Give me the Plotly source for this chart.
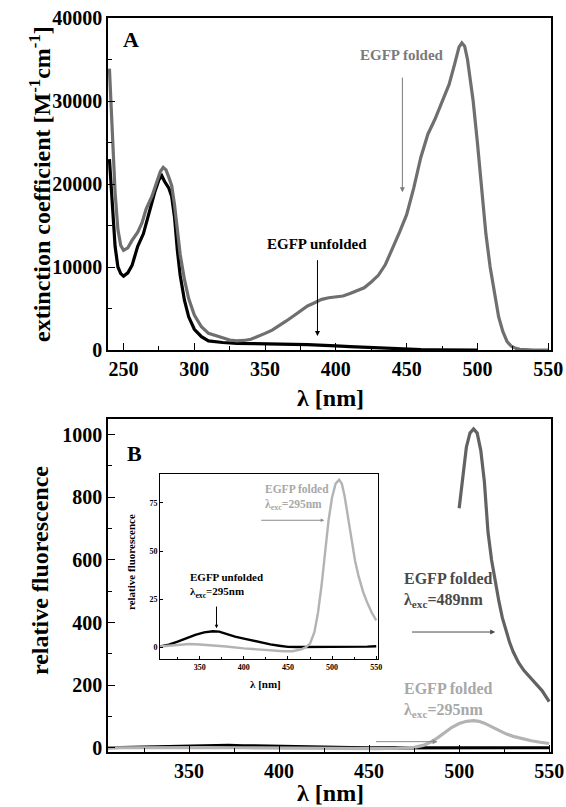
import plotly.graph_objects as go

# ---------------- Panel A: absorption ----------------
a_folded_nm = [240, 242, 244, 246, 248, 250, 253, 256, 260, 263, 266, 270, 273, 276, 278, 280, 282, 284, 286, 288,
               290, 293, 296, 300, 305, 310, 315, 320, 325, 330, 335, 340, 345, 350, 355, 360, 365, 370, 375, 380,
               385, 390, 395, 400, 405, 410, 415, 420, 425, 430, 435, 440, 445, 450, 455, 460, 465, 470, 475, 480,
               484, 487, 489, 491, 493, 495, 497, 500, 503, 506, 509, 512, 515, 518, 521, 524, 527, 530, 535, 540, 550]
a_folded_val = [33900, 26000, 19000, 14500, 12600, 12000, 12300, 13200, 14200, 15300, 17000, 18500, 20000, 21500, 22000,
                21700, 20800, 19800, 17500, 14500, 11500, 8500, 6200, 4200, 2800, 2000, 1700, 1500, 1200, 1100, 1150,
                1300, 1600, 2000, 2400, 2900, 3500, 4100, 4700, 5300, 5700, 6100, 6300, 6400, 6500, 6800, 7100, 7500,
                8200, 9000, 10300, 12200, 14200, 16300, 19500, 23200, 26000, 27800, 29800, 32000, 34500, 36500, 37000,
                36600, 35000, 32500, 30000, 25000, 19000, 14000, 10000, 7000, 4000, 2200, 1000, 450, 200, 80, 20, 0, 0]

a_unfolded_nm = [240, 242, 244, 246, 248, 250, 253, 256, 260, 264, 268, 272, 275, 277, 279, 282, 284, 286, 288, 290,
                 293, 296, 300, 305, 310, 320, 330, 340, 350, 360, 370, 380, 390, 400, 410, 420, 430, 440, 450, 460,
                 470, 480, 490, 500]
a_unfolded_val = [23000, 17000, 12500, 10000, 9200, 8900, 9300, 10200, 12500, 14000, 16500, 19000, 20500, 21000, 20300,
                  19500, 18500, 16000, 12000, 9000, 6000, 4000, 2500, 1600, 1100, 900, 800, 750, 720, 700, 680, 650,
                  600, 500, 400, 320, 250, 170, 100, 60, 30, 10, 0, 0]

# ---------------- Panel B: fluorescence ----------------
b_f489_nm = [500, 502, 504, 506, 508, 510, 512, 514, 516, 518, 520, 522, 524, 526, 528, 530, 533, 536, 540, 543, 546, 550]
b_f489_val = [765, 870, 960, 1005, 1018, 1005, 950, 850, 690, 600, 530, 470, 415, 372, 337, 307, 272, 247, 222, 203, 183, 148]

b_f295_nm = [305, 315, 325, 338, 350, 360, 380, 400, 414, 430, 445, 455, 465, 470, 475, 480, 484, 488, 492, 496, 500,
             504, 508, 511, 514, 518, 522, 526, 530, 535, 540, 545, 550]
b_f295_val = [0.5, 1, 1.5, 1.8, 1.5, 1.2, 0.5, -0.5, -1, -1.5, -2, -2, -1, 0, 2, 8, 18, 32, 50, 66, 78,
              85, 87, 85, 79, 68, 56, 45, 37, 29, 23, 18, 14]

b_unf_nm = [305, 315, 325, 335, 345, 355, 365, 372, 380, 390, 400, 410, 420, 430, 440, 450, 460, 480, 500, 520, 540, 550]
b_unf_val = [0.5, 1.5, 3, 4.8, 6.5, 7.8, 8.4, 8.2, 7, 5.6, 4.6, 3.5, 2.5, 1.6, 0.9, 0.3, 0.2, 0.2, 0.2, 0.3, 0.4, 0.6]

a_yticks = [0, 10000, 20000, 30000, 40000]
a_xticks = [250, 300, 350, 400, 450, 500, 550]
b_yticks = [0, 200, 400, 600, 800, 1000]
b_xticks = [350, 400, 450, 500, 550]
inset_yticks = [0, 25, 50, 75]
inset_xticks = [350, 400, 450, 500, 550]

W, H = 566, 807
SERIF = "Liberation Serif, Times New Roman, Times, serif"
C_BLACK = "#000000"
C_GRAY_A = "#6f6f6f"
C_DARK_B = "#626262"
C_LIGHT_B = "#b3b3b3"


def px_x(a, b):
    return [a / W, b / W]


def px_y(top, bottom):
    return [1 - bottom / H, 1 - top / H]


fig = go.Figure()
# Panel A
fig.add_trace(go.Scatter(x=a_unfolded_nm, y=a_unfolded_val, mode="lines", line=dict(color=C_BLACK, width=3.2),
                         xaxis="x", yaxis="y", showlegend=False))
fig.add_trace(go.Scatter(x=a_folded_nm, y=a_folded_val, mode="lines", line=dict(color=C_GRAY_A, width=3.2),
                         xaxis="x", yaxis="y", showlegend=False))
# Panel B
fig.add_trace(go.Scatter(x=b_unf_nm, y=b_unf_val, mode="lines", line=dict(color=C_BLACK, width=3.2),
                         xaxis="x2", yaxis="y2", showlegend=False))
fig.add_trace(go.Scatter(x=b_f295_nm, y=b_f295_val, mode="lines", line=dict(color=C_LIGHT_B, width=3.2),
                         xaxis="x2", yaxis="y2", showlegend=False))
fig.add_trace(go.Scatter(x=b_f489_nm, y=b_f489_val, mode="lines", line=dict(color=C_DARK_B, width=3.2),
                         xaxis="x2", yaxis="y2", showlegend=False))
# Inset
fig.add_trace(go.Scatter(x=b_unf_nm, y=b_unf_val, mode="lines", line=dict(color=C_BLACK, width=2.4),
                         xaxis="x3", yaxis="y3", showlegend=False))
fig.add_trace(go.Scatter(x=b_f295_nm, y=b_f295_val, mode="lines", line=dict(color=C_LIGHT_B, width=2.4),
                         xaxis="x3", yaxis="y3", showlegend=False))

tickf = dict(family=SERIF, size=20, color="black", weight="bold")
small_tickf = dict(family=SERIF, size=8, color="black", weight="bold")


def ax_common(**kw):
    d = dict(showline=True, linecolor="black", linewidth=1.5, mirror=True, ticks="inside", ticklen=7,
             tickcolor="black", tickwidth=1.2, showgrid=False, zeroline=False, tickfont=tickf, automargin=False)
    d.update(kw)
    return d


fig.update_layout(
    template="none",
    width=W, height=H,
    margin=dict(l=0, r=0, t=0, b=0, pad=0),
    paper_bgcolor="white", plot_bgcolor="white",
    font=dict(family=SERIF, color="black"),
    xaxis=ax_common(domain=px_x(108, 551), anchor="y", range=[239, 552], tickvals=a_xticks,
                    minor=dict(ticks="inside", dtick=25, tick0=250, ticklen=4, tickcolor="black")),
    yaxis=ax_common(domain=px_y(18, 350), anchor="x", range=[0, 40000], tickvals=a_yticks, tickformat="d",
                    minor=dict(ticks="inside", dtick=5000, ticklen=4, tickcolor="black")),
    xaxis2=ax_common(domain=px_x(108, 551), anchor="y2", range=[305, 551], tickvals=b_xticks,
                     minor=dict(ticks="inside", dtick=25, tick0=325, ticklen=4, tickcolor="black")),
    yaxis2=ax_common(domain=px_y(419, 752), anchor="x2", range=[-13, 1050], tickvals=b_yticks,
                     minor=dict(ticks="inside", dtick=100, ticklen=4, tickcolor="black")),
    xaxis3=ax_common(domain=px_x(160, 378), anchor="y3", range=[305, 552], tickvals=inset_xticks,
                     tickfont=small_tickf, ticklen=3, linewidth=1,
                     minor=dict(ticks="inside", dtick=25, tick0=325, ticklen=2, tickcolor="black")),
    yaxis3=ax_common(domain=px_y(474, 659), anchor="x3", range=[-6, 90], tickvals=inset_yticks,
                     tickfont=small_tickf, ticklen=3, linewidth=1),
)

annots = []
title_f = dict(family=SERIF, size=24, color="black", weight="bold")


def pa(text, x, y, font, angle=0):
    return dict(text=text, xref="paper", yref="paper", x=x / W, y=1 - y / H, textangle=angle,
                xanchor="center", yanchor="middle", showarrow=False, font=font)


# axis titles
annots.append(pa("extinction coefficient [M<sup>-1</sup>cm<sup>-1</sup>]", 40, 184, title_f, -90))
annots.append(pa("λ [nm]", 330, 398, title_f))
annots.append(pa("relative fluorescence", 40, 571, title_f, -90))
annots.append(pa("λ [nm]", 330, 793, title_f))
# panel letters
letter_f = dict(family=SERIF, size=22, color="black", weight="bold")
annots.append(pa("A", 131, 40, letter_f))
annots.append(pa("B", 134, 453, letter_f))


def da(text, x, y, xr, yr, font, xanchor="center"):
    return dict(text=text, x=x, y=y, xref=xr, yref=yr, showarrow=False, font=font, align="left",
                xanchor=xanchor, yanchor="middle")


def arrow(x, y, ax, ay, xr, yr, color, size=1.0):
    return dict(x=x, y=y, ax=ax, ay=ay, xref=xr, yref=yr, axref=xr, ayref=yr, text="",
                showarrow=True, arrowhead=2, arrowsize=size, arrowwidth=1, arrowcolor=color)


# Panel A labels
annots.append(da("EGFP folded", 447, 35500, "x", "y",
                 dict(family=SERIF, size=15, color="#7a7a7a", weight="bold")))
annots.append(arrow(447, 19000, 447, 33000, "x", "y", "#7a7a7a"))
annots.append(da("EGFP unfolded", 387, 12800, "x", "y",
                 dict(family=SERIF, size=15, color="black", weight="bold")))
annots.append(arrow(387, 1700, 387, 11000, "x", "y", "black"))

# Panel B labels
annots.append(da("EGFP folded<br>λ<sub>exc</sub>=489nm", 468, 505, "x2", "y2",
                 dict(family=SERIF, size=16, color="#4a4a4a", weight="bold"), "left"))
annots.append(arrow(520, 370, 473, 370, "x2", "y2", "#4a4a4a"))
annots.append(da("EGFP folded<br>λ<sub>exc</sub>=295nm", 468, 152, "x2", "y2",
                 dict(family=SERIF, size=16, color="#a8a8a8", weight="bold"), "left"))
annots.append(arrow(488, 20, 453, 20, "x2", "y2", "#8a8a8a"))

# Inset labels
inset_f = dict(family=SERIF, size=11, color="black", weight="bold")
annots.append(pa("relative fluorescence", 131, 562, inset_f, -90))
annots.append(pa("λ [nm]", 265, 684, inset_f))
annots.append(da("EGFP folded<br>λ<sub>exc</sub>=295nm", 422, 78, "x3", "y3",
                 dict(family=SERIF, size=11.5, color="#a8a8a8", weight="bold"), "left"))
annots.append(arrow(491, 66, 418, 66, "x3", "y3", "#8a8a8a", 0.7))
annots.append(da("EGFP unfolded<br>λ<sub>exc</sub>=295nm", 337, 32, "x3", "y3", inset_f, "left"))
annots.append(arrow(369, 10, 369, 22, "x3", "y3", "black", 0.7))

fig.update_layout(annotations=annots)
fig.write_html("out.html", config={"displayModeBar": False},
               post_script="document.body.style.margin='0';document.body.style.overflow='hidden';")
